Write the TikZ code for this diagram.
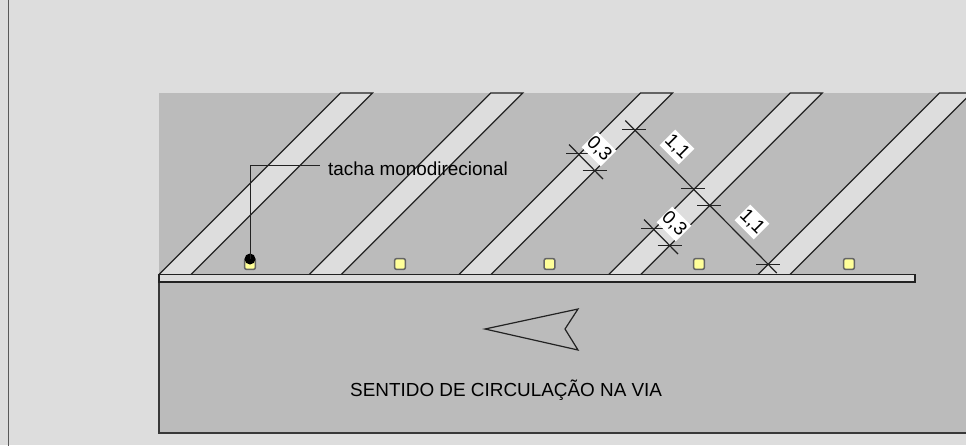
\documentclass[tikz,border=0pt]{standalone}
\usepackage{fontspec}
\usetikzlibrary{calc}
\setmainfont{Liberation Sans}
\definecolor{paper}{HTML}{DDDDDD}
\definecolor{road}{HTML}{BBBBBB}
\definecolor{ink}{HTML}{222222}
\definecolor{stud}{HTML}{FFFF99}
\tikzset{
  stripe/.style={fill=paper,draw=ink,line width=1.2pt,line join=miter},
  studbox/.style={draw=ink!70,fill=stud,line width=1.5pt,rounded corners=2pt,minimum size=10.8pt,inner sep=0pt},
  dimline/.style={draw=ink,line width=1.2pt},
  dimlabel/.style={fill=white,rotate=-45,inner sep=0pt,minimum width=27pt,minimum height=22pt,font=\fontsize{18.9}{18.9}\selectfont,text=black},
  plain/.style={font=\fontsize{18.9}{20}\selectfont,text=black,inner sep=0pt,anchor=west},
}
\begin{document}
\begin{tikzpicture}[x=1pt,y=-1pt]
\useasboundingbox (0,0) rectangle (966,445);
\clip (0,0) rectangle (966,445);
\fill[paper] (0,0) rectangle (966,445);
\draw[draw=ink!75,line width=1.8pt] (8.5,-2) -- (8.5,447);
% road surfaces
\fill[road] (159,93) rectangle (968,433);
\draw[ink!90,line width=1.2pt] (159,282) -- (159,433) -- (968,433);
% oblique stripes
\foreach \x in {159,309.3,459,608.7,758}{
  \path[stripe] (\x,274.5) -- ++(181.5,-181.5) -- ++(32,0) -- ++(-181.5,181.5);
}
% edge strip
\path[stripe] (159,274.5) rectangle (915,282);
% studs
\node[studbox] (s1) at (250,264) {};
\node[studbox] (s2) at (400,264) {};
\node[studbox] (s3) at (549.5,264) {};
\node[studbox] (s4) at (699,264) {};
\node[studbox] (s5) at (849,264) {};
% leader
\node[plain] (tacha) at (328,169) {tacha monodirecional};
\node[circle,fill=black,minimum size=11pt,inner sep=0pt] (dot) at (250,259) {};
\coordinate (bend) at (250.5,165.5);
\coordinate (lead) at (320,165.5);
\draw[ink,line width=1.2pt] (dot.center -| bend) -- (bend) -- (lead);
% dimension points
\coordinate (a1) at (634.3,129.5);
\coordinate (a2) at (693,188.5);
\coordinate (a3) at (709.3,205.5);
\coordinate (a4) at (768.3,264.5);
\coordinate (b1) at (578,153.5);
\coordinate (b2) at (594.5,170.5);
\coordinate (c1) at (653,228.5);
\coordinate (c2) at (669.5,245.5);
\draw[dimline] ($(a1)+(-9,-9)$) -- ($(a4)+(8.5,8.5)$);
\draw[dimline] ($(b1)+(-9,-9)$) -- ($(b2)+(8.5,8.5)$);
\draw[dimline] ($(c1)+(-9,-9)$) -- ($(c2)+(8.5,8.5)$);
\foreach \p in {a1,a2,a3,a4,b1,b2,c1,c2}{
  \draw[dimline] ($(\p)+(-12,0)$) -- ($(\p)+(12,0)$);
}
\node[dimlabel] (l1) at (677,147) {1,1};
\node[dimlabel] (l2) at (752,222) {1,1};
\node[dimlabel] (l3) at (599,149) {0,3};
\node[dimlabel] (l4) at (674,224) {0,3};
% direction arrow
\draw[ink,line width=1.2pt,line join=miter] (485,329) -- (578,309) -- (565,329) -- (578,350) -- cycle;
\node[plain] (sent) at (350,390) {SENTIDO DE CIRCULAÇÃO NA VIA};
\end{tikzpicture}
\end{document}
